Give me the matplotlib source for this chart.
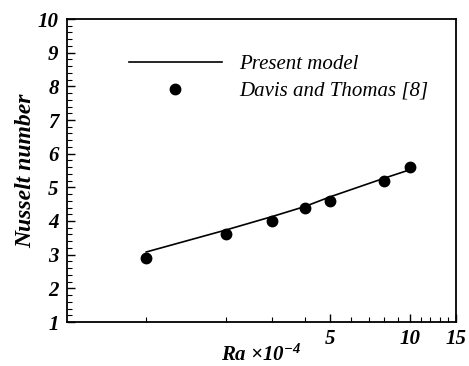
import matplotlib.pyplot as plt
from matplotlib.ticker import FixedLocator, NullFormatter, MultipleLocator

# Ra x 10^-4 and Nusselt number
ra_exp = [1, 2, 3, 4, 5, 8, 10]
nu_exp = [2.9, 3.6, 4.0, 4.4, 4.6, 5.2, 5.6]  # Davis and Thomas [8]

ra_model = [1, 2, 3, 4, 5, 8, 10]
nu_model = [3.08, 3.73, 4.13, 4.43, 4.72, 5.27, 5.52]  # present model

x_tick_labels = ['5', '10', '15']

plt.rcParams['font.family'] = 'Liberation Serif'
plt.rcParams['mathtext.fontset'] = 'custom'
plt.rcParams['mathtext.rm'] = 'Liberation Serif:italic:bold'
plt.rcParams['mathtext.it'] = 'Liberation Serif:italic:bold'

fig = plt.figure(figsize=(4.69, 3.66), dpi=100)
ax = fig.add_axes([67 / 469, 44 / 366, (456 - 67) / 469, (322 - 19) / 366])

ax.plot(ra_model, nu_model, color='black', lw=1.2, label='Present model')
ax.plot(ra_exp, nu_exp, 'o', color='black', markersize=7.5, label='Davis and Thomas [8]')

ax.set_xscale('log')
ax.set_xlim(0.5, 15)
ax.set_ylim(1, 10)

ax.xaxis.set_major_locator(FixedLocator([5, 10, 15]))
ax.xaxis.set_minor_locator(FixedLocator([1, 2, 3, 4, 6, 7, 8, 9, 11, 12, 13, 14]))
ax.set_xticklabels(x_tick_labels)
ax.xaxis.set_minor_formatter(NullFormatter())
ax.yaxis.set_major_locator(MultipleLocator(1))
ax.yaxis.set_minor_locator(MultipleLocator(0.2))

ax.tick_params(which='both', direction='in', top=False, right=False)
ax.tick_params(which='major', length=6, width=1, labelsize=15, pad=6)
ax.tick_params(which='minor', length=3.5, width=0.8)
ax.tick_params(axis='x', pad=5)
for lab in ax.get_xticklabels() + ax.get_yticklabels():
    lab.set_fontweight('bold')
    lab.set_fontstyle('italic')

for s in ax.spines.values():
    s.set_linewidth(1.3)

ax.set_ylabel('Nusselt number', fontsize=17, fontweight='bold', fontstyle='italic', labelpad=1)
ax.set_xlabel(r'$Ra$ $\times 10^{-4}$', fontsize=15, labelpad=-3)

ax.legend(loc='upper left', bbox_to_anchor=(0.11, 0.945), frameon=False,
          handlelength=4.5, handletextpad=0.8, labelspacing=0.35,
          prop={'style': 'italic', 'size': 15})

fig.savefig('out.png', dpi=100)
